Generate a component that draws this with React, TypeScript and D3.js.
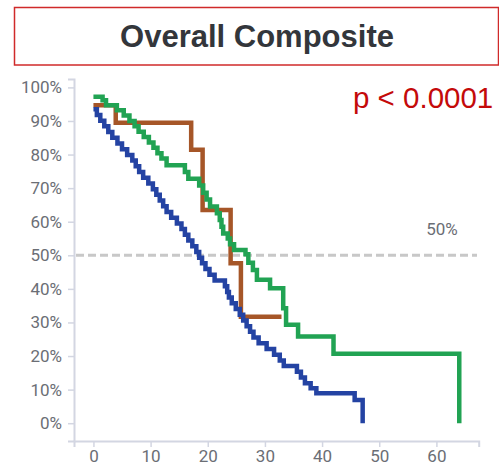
import * as d3 from 'd3'
import React, { useEffect, useRef } from 'react';

// survival steps: [month, percent]
const blueSteps: [number, number][] = [
    [0, 93.5], [0.6, 91.8], [1.2, 90.1], [1.9, 88.4], [2.6, 86.7], [3.3, 85.0],
    [4.2, 83.3], [5.0, 81.6], [5.9, 79.9], [6.8, 78.2], [7.4, 76.5], [8.0, 74.8],
    [8.7, 73.1], [9.6, 71.4], [10.4, 69.7], [11.0, 68.0], [11.6, 66.3], [12.2, 64.6],
    [12.8, 62.9], [13.6, 61.2], [14.6, 59.5], [15.4, 57.8], [16.0, 56.1], [16.6, 54.4],
    [17.3, 52.7], [18.0, 51.0], [18.5, 49.3], [19.0, 47.6], [19.6, 45.9], [20.3, 44.2],
    [21.2, 42.5], [23.0, 40.8], [23.4, 39.1], [23.7, 37.4], [24.2, 35.7], [24.9, 34.0],
    [25.6, 32.3], [26.2, 30.6], [26.8, 28.9], [27.4, 27.2], [28.0, 25.5], [28.9, 23.8],
    [30.3, 22.1], [31.6, 20.4], [32.6, 18.7], [33.3, 17.0], [35.6, 15.3], [36.3, 13.6],
    [37.0, 11.9], [38.0, 10.4], [39.0, 8.9], [45.7, 6.9], [47.1, 0],
];

const greenSteps: [number, number][] = [
    [0, 97.2], [1.6, 96.2], [2.2, 94.7], [4.1, 93.2], [5.3, 91.6], [6.3, 90.0],
    [7.2, 88.4], [7.9, 86.8], [8.8, 85.2], [9.7, 83.6], [10.5, 82.0], [11.2, 80.4],
    [11.9, 78.8], [12.8, 76.8], [16.0, 74.8], [16.6, 72.8], [18.5, 70.8], [19.2, 68.6],
    [19.8, 66.6], [20.4, 64.5], [21.6, 62.5], [22.1, 60.5], [22.4, 58.5], [22.7, 56.5],
    [23.5, 55.0], [23.9, 53.3], [24.6, 51.6], [26.6, 50.3], [27.1, 47.8], [27.9, 45.6],
    [28.6, 42.7], [30.9, 40.2], [33.2, 34.2], [33.7, 29.3], [35.8, 25.8], [42.0, 20.7],
    [64.0, 0],
];

const brownSteps: [number, number][] = [
    [0, 94.7], [3.9, 89.5], [17.1, 81.4], [19.1, 63.5], [24.0, 47.6], [25.8, 31.7],
    [32.9, 31.7],
];

const xTicks = [0, 10, 20, 30, 40, 50, 60];
const yTicks = [0, 10, 20, 30, 40, 50, 60, 70, 80, 90, 100];

const title = 'Overall Composite';
const pValue = 'p < 0.0001';
const medianLabel = '50%';

const App = () => {
    const myRef = useRef<SVGSVGElement>(null);

    useEffect(() => {
        const svg = d3.select(myRef.current);
        svg.selectAll('*').remove();

        const x = d3.scaleLinear().domain([-3.4, 67.4]).range([74, 478.7]);
        const y = d3.scaleLinear().domain([-5.3, 102.5]).range([441, 79]);

        // Title box
        svg.append('rect')
            .attr('x', 14.5).attr('y', 7.5)
            .attr('width', 484).attr('height', 57.5)
            .attr('fill', 'none')
            .attr('stroke', '#d02a2a')
            .attr('stroke-width', 1.5);

        svg.append('text')
            .attr('x', 257).attr('y', 46.5)
            .attr('text-anchor', 'middle')
            .style('font-family', '"Liberation Sans", Arial, sans-serif')
            .style('font-weight', 'bold')
            .style('font-size', '31px')
            .attr('fill', '#33363b')
            .text(title);

        // Axes
        const axisColor = '#d3d6e2';
        const tickColor = '#6b6e75';

        const yAxis = svg.append('g')
            .attr('transform', 'translate(74,0)')
            .call(d3.axisLeft(y).tickValues(yTicks).tickSize(6).tickPadding(6)
                .tickFormat(d => `${d}%`));

        const xAxis = svg.append('g')
            .attr('transform', 'translate(0,441)')
            .call(d3.axisBottom(x).tickValues(xTicks).tickSize(6).tickPadding(3)
                .tickFormat(d => `${d}`));

        [yAxis, xAxis].forEach(a => {
            a.select('.domain').attr('stroke', axisColor).attr('stroke-width', 2);
            a.selectAll('.tick line').attr('stroke', axisColor).attr('stroke-width', 1.5);
            a.selectAll('.tick text')
                .attr('fill', tickColor)
                .style('font-family', 'Roboto, sans-serif')
                .style('font-size', '17px');
        });

        // 50% reference line
        svg.append('line')
            .attr('x1', 76).attr('x2', 477)
            .attr('y1', y(50)).attr('y2', y(50))
            .attr('stroke', '#c8c8c8')
            .attr('stroke-width', 3)
            .attr('stroke-dasharray', '8,4');

        svg.append('text')
            .attr('x', 442).attr('y', 235)
            .attr('text-anchor', 'middle')
            .style('font-family', 'Roboto, sans-serif')
            .style('font-size', '17px')
            .attr('fill', tickColor)
            .text(medianLabel);

        // Curves
        const line = d3.line<[number, number]>()
            .x(d => x(d[0]))
            .y(d => y(d[1]))
            .curve(d3.curveStepAfter);

        const series: [[number, number][], string][] = [
            [brownSteps, '#a65628'],
            [blueSteps, '#2443a3'],
            [greenSteps, '#21a353'],
        ];

        series.forEach(([data, color]) => {
            svg.append('path')
                .datum(data)
                .attr('d', line)
                .attr('fill', 'none')
                .attr('stroke', color)
                .attr('stroke-width', 4.5);
        });

        // p-value
        svg.append('text')
            .attr('x', 353).attr('y', 107.5)
            .style('font-family', '"Liberation Sans", Arial, sans-serif')
            .style('font-size', '29.5px')
            .attr('fill', '#c40a0a')
            .text(pValue);
    }, []);

    return (
        <svg ref={myRef} width={499} height={469}
            style={{ position: 'absolute', left: 0, top: 0, background: '#fff' }} />
    );
}

export default App;
